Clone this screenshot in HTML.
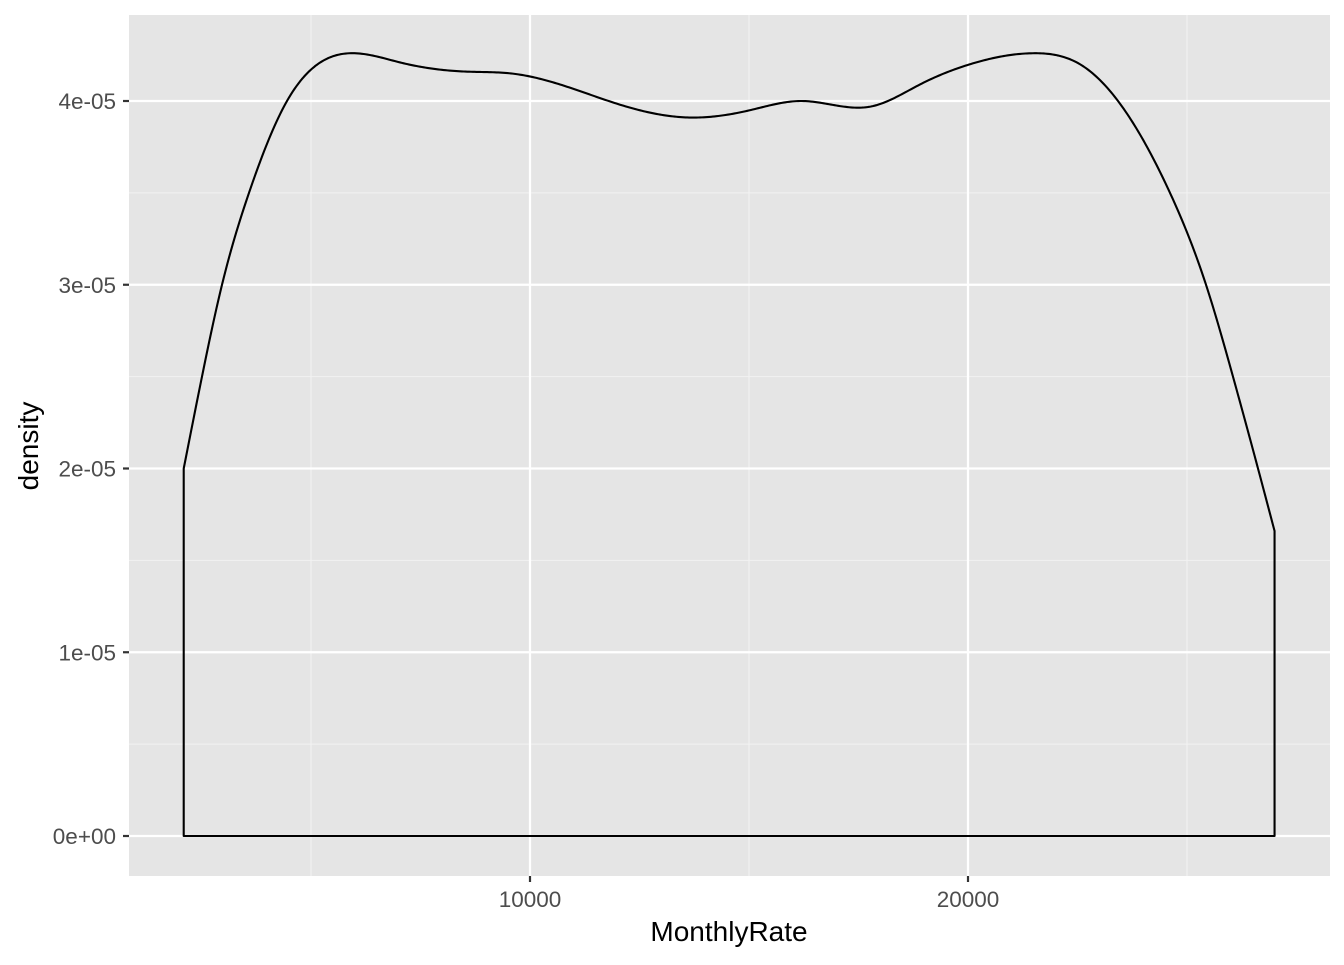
<!DOCTYPE html>
<html><head><meta charset="utf-8"><style>
body{margin:0;background:#fff}
svg text{font-family:"Liberation Sans",Arial,sans-serif}
</style></head><body>
<svg id="chart" width="1344" height="960" xmlns="http://www.w3.org/2000/svg">
<rect x="129" y="15" width="1201" height="861" fill="#e5e5e5"/>
<g id="grid"></g>
<path id="curve" fill="none" stroke="#000" stroke-width="2.1" stroke-linejoin="round"/>
<g id="axes"></g>
<text x="729" y="941" font-size="28" text-anchor="middle" fill="#000">MonthlyRate</text>
<text transform="translate(38,446) rotate(-90)" font-size="28" text-anchor="middle" fill="#000">density</text>
</svg>
<script>
const xs=[2094,2511,2968,3584,4452,4909,5890,7032,8539,9566,10685,12055,13653,15023,16210,17785,18904,20046,21507,22557,23425,24612,25434,26050,26621,26999];
const dens=[2.00,2.50,3.00,3.50,4.00,4.15,4.26,4.21,4.16,4.15,4.09,3.98,3.91,3.95,4.00,3.97,4.09,4.20,4.26,4.20,4.00,3.50,3.00,2.50,2.00,1.66];
const xTicks=[10000,20000];
const xTickLabels=["10000","20000"];
const xMinor=[5000,15000,25000];
const yTicks=[0,1,2,3,4];
const yTickLabels=["0e+00","1e-05","2e-05","3e-05","4e-05"];
const yMinor=[0.5,1.5,2.5,3.5];
const X=v=>92+v*0.0438;
const Y=v=>836-v*183.75;
const NS="http://www.w3.org/2000/svg";
const grid=document.getElementById('grid'),axes=document.getElementById('axes');
function line(p,x1,y1,x2,y2,c,w){const l=document.createElementNS(NS,'line');l.setAttribute('x1',x1);l.setAttribute('y1',y1);l.setAttribute('x2',x2);l.setAttribute('y2',y2);l.setAttribute('stroke',c);l.setAttribute('stroke-width',w);p.appendChild(l);return l;}
function text(p,x,y,s,a){const t=document.createElementNS(NS,'text');t.setAttribute('x',x);t.setAttribute('y',y);t.setAttribute('font-size','22.5');t.setAttribute('fill','#4d4d4d');t.setAttribute('text-anchor',a);t.textContent=s;p.appendChild(t);return t;}
yMinor.forEach(v=>{const l=line(grid,129,Y(v),1330,Y(v),'#f2f2f2',1.1);

});
xMinor.forEach(v=>{const l=line(grid,X(v),15,X(v),876,'#f2f2f2',1.1);

});
yTicks.forEach((v,i)=>{const l=line(grid,129,Y(v),1330,Y(v),'#fff',2.2);


line(axes,123,Y(v),129,Y(v),'#333',2.2);
const t=text(axes,116,Y(v)+8,yTickLabels[i],'end');

});
xTicks.forEach((v,i)=>{const l=line(grid,X(v),15,X(v),876,'#fff',2.2);


line(axes,X(v),876,X(v),882,'#333',2.2);
const t=text(axes,X(v),907,xTickLabels[i],'middle');

});
function spline(x,y){const n=x.length,h=[],a=[],l=[1],mu=[0],z=[0],c=new Array(n).fill(0),b=[],d=[];
for(let i=0;i<n-1;i++)h[i]=x[i+1]-x[i];
for(let i=1;i<n-1;i++)a[i]=3/h[i]*(y[i+1]-y[i])-3/h[i-1]*(y[i]-y[i-1]);
for(let i=1;i<n-1;i++){l[i]=2*(x[i+1]-x[i-1])-h[i-1]*mu[i-1];mu[i]=h[i]/l[i];z[i]=(a[i]-h[i-1]*z[i-1])/l[i];}
for(let j=n-2;j>=0;j--){c[j]=z[j]-mu[j]*c[j+1];b[j]=(y[j+1]-y[j])/h[j]-h[j]*(c[j+1]+2*c[j])/3;d[j]=(c[j+1]-c[j])/(3*h[j]);}
return t=>{let i=0;while(i<n-2&&t>x[i+1])i++;const dx=t-x[i];return y[i]+b[i]*dx+c[i]*dx*dx+d[i]*dx*dx*dx;};}
const f=spline(xs,dens);
const x0=xs[0],x1=xs[xs.length-1];
let d=`M${X(x0)},${Y(0)} L${X(x0)},${Y(dens[0])}`;
for(let k=1;k<=600;k++){const t=x0+(x1-x0)*k/600;d+=` L${X(t).toFixed(2)},${Y(f(t)).toFixed(2)}`;}
d+=` L${X(x1)},${Y(0)} Z`;
document.getElementById('curve').setAttribute('d',d);
</script>
</body></html>
